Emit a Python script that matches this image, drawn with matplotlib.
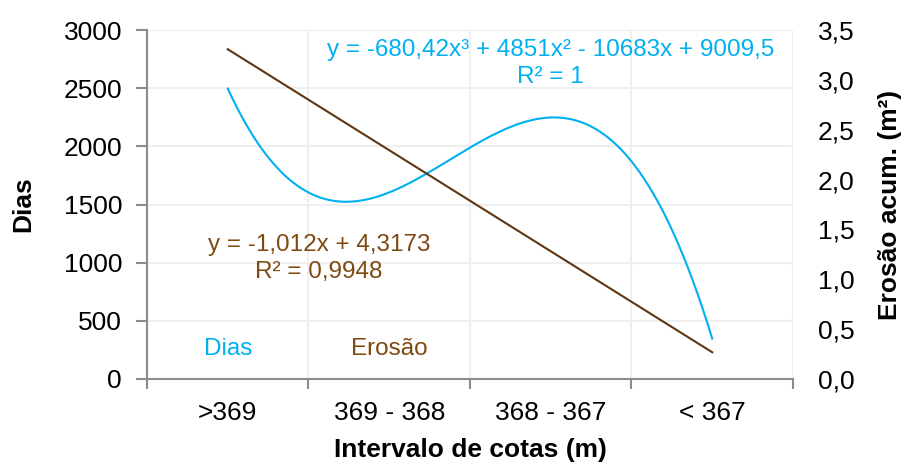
import numpy as np
import matplotlib.pyplot as plt
from matplotlib.ticker import FuncFormatter, FixedLocator

plt.rcParams['font.family'] = ['Liberation Sans', 'DejaVu Sans']

# Data
categorias = ['>369', '369 - 368', '368 - 367', '< 367']
dias = [2497, 1604, 2248, 347]
erosao = [3.39, 2.21, 1.20, 0.35]

cor_dias = '#00B0F0'
cor_eros = '#5E3510'
cor_eros_txt = '#7F4A12'

x = np.arange(1, len(categorias) + 1)
xs = np.linspace(1, len(categorias), 200)

# trendlines (as in the spreadsheet): cubic for Dias, linear for Erosão
p_dias = np.polyfit(x, dias, 3)
p_eros = np.polyfit(x, erosao, 1)

fig = plt.figure(figsize=(9.03, 4.62), dpi=100)
ax = fig.add_axes([147 / 903, 1 - 379 / 462, (793 - 147) / 903, (379 - 30) / 462])
ax2 = ax.twinx()

ax.plot(xs, np.polyval(p_dias, xs), color=cor_dias, lw=1.5)
ax2.plot(xs, np.polyval(p_eros, xs), color=cor_eros, lw=1.5)

ax.set_xlim(0.5, 4.5)
ax.set_ylim(0, 3000)
ax.set_yticks(np.arange(0, 3001, 500))
ax2.set_ylim(0, 3.5)
ax2.set_yticks(np.arange(0, 3.51, 0.5))
ax2.yaxis.set_major_formatter(FuncFormatter(lambda v, p: f'{v:.1f}'.replace('.', ',')))

ax.set_xticks(x)
ax.set_xticklabels(categorias)
ax.xaxis.set_minor_locator(FixedLocator(np.arange(0.5, 4.6, 1)))
ax.tick_params(axis='x', which='major', length=0, labelsize=19, pad=16)
ax.tick_params(axis='x', which='minor', length=7, width=1.5, color='#8C8C8C', direction='out')
ax.tick_params(axis='y', length=8, width=1.5, color='#8C8C8C', labelsize=19, pad=10)
ax2.tick_params(axis='y', length=0, labelsize=19, pad=18)

ax.grid(True, axis='y', color='#EFEFEF', lw=1.5)
ax.grid(True, axis='x', which='minor', color='#EFEFEF', lw=1.5)
ax.set_axisbelow(True)

for a in (ax, ax2):
    for s in a.spines.values():
        s.set_visible(False)
for s in ('left', 'bottom'):
    ax.spines[s].set_visible(True)
    ax.spines[s].set_color('#8C8C8C')
    ax.spines[s].set_linewidth(1.5)

ax.set_xlabel('Intervalo de cotas (m)', fontsize=19, fontweight='bold', labelpad=9)
ax.set_ylabel('Dias', fontsize=19, fontweight='bold', labelpad=20)
ax2.set_ylabel('Erosão acum. (m²)', fontsize=19, fontweight='bold', labelpad=17)

# trendline equations
ax.text(3.0, 2712, 'y = -680,42x³ + 4851x² - 10683x + 9009,5\nR² = 1',
        color=cor_dias, fontsize=17.5, ha='center', va='center', linespacing=1.35)
ax.text(1.565, 1036, 'y = -1,012x + 4,3173\nR² = 0,9948',
        color=cor_eros_txt, fontsize=17.5, ha='center', va='center', linespacing=1.35)

# series labels
ax.text(1.0, 255, 'Dias', color=cor_dias, fontsize=17.5, ha='center', va='center')
ax.text(2.0, 255, 'Erosão', color=cor_eros_txt, fontsize=17.5, ha='center', va='center')

plt.savefig('out.png', dpi=100)
